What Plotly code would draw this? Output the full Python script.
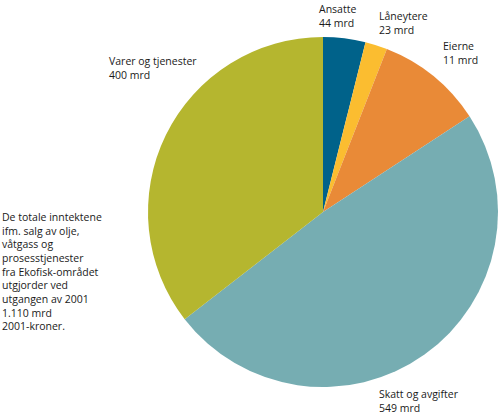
import plotly.graph_objects as go

# slices, clockwise from 12 o'clock
labels = ["Ansatte", "Låneytere", "Eierne", "Skatt og avgifter", "Varer og tjenester"]
values = [44, 23, 111, 549, 400]  # slice sizes (mrd)
value_text = ["44 mrd", "23 mrd", "11 mrd", "549 mrd", "400 mrd"]  # as printed
colors = ["#00628a", "#fbbd30", "#e98a37", "#76adb2", "#b5b62f"]

note = ("De totale inntektene<br>ifm. salg av olje,<br>våtgass og<br>prosesstjenester<br>"
        "fra Ekofisk-området<br>utgjorder ved<br>utgangen av 2001<br>1.110 mrd<br>2001-kroner.")

# label positions in pixels (left, top)
label_pos = {
    "Ansatte": (317, 0),
    "Låneytere": (377, 7),
    "Eierne": (441, 37),
    "Skatt og avgifter": (377, 385),
    "Varer og tjenester": (107, 52),
}

W, H = 500, 417

fig = go.Figure()
fig.add_trace(
    go.Pie(
        labels=labels,
        values=values,
        marker=dict(colors=colors, line=dict(width=0)),
        sort=False,
        direction="clockwise",
        rotation=0,
        textinfo="none",
        hoverinfo="label+value",
        showlegend=False,
        domain=dict(x=[148 / W, 498 / W], y=[1 - 387 / H, 1 - 37 / H]),
    )
)

font = dict(family="Open Sans, Noto Sans, sans-serif", size=10.5, color="#1a1a1a")

for lab, txt in zip(labels, value_text):
    px, py = label_pos[lab]
    fig.add_annotation(
        x=px / W, y=1 - py / H, xref="paper", yref="paper",
        xanchor="left", yanchor="top", align="left",
        text=f"{lab}<br>{txt}", showarrow=False, font=font,
    )

fig.add_annotation(
    x=0, y=1 - 208 / H, xref="paper", yref="paper",
    xanchor="left", yanchor="top", align="left",
    text=note, showarrow=False, font=font,
)

fig.update_layout(
    width=W, height=H,
    margin=dict(l=0, r=0, t=0, b=0),
    paper_bgcolor="white",
    plot_bgcolor="white",
)

# drop the default 8px body margin so the chart sits at the window corner
fig.write_html(
    "out.html",
    config={"displayModeBar": False},
    post_script="document.body.style.margin = '0';",
)
